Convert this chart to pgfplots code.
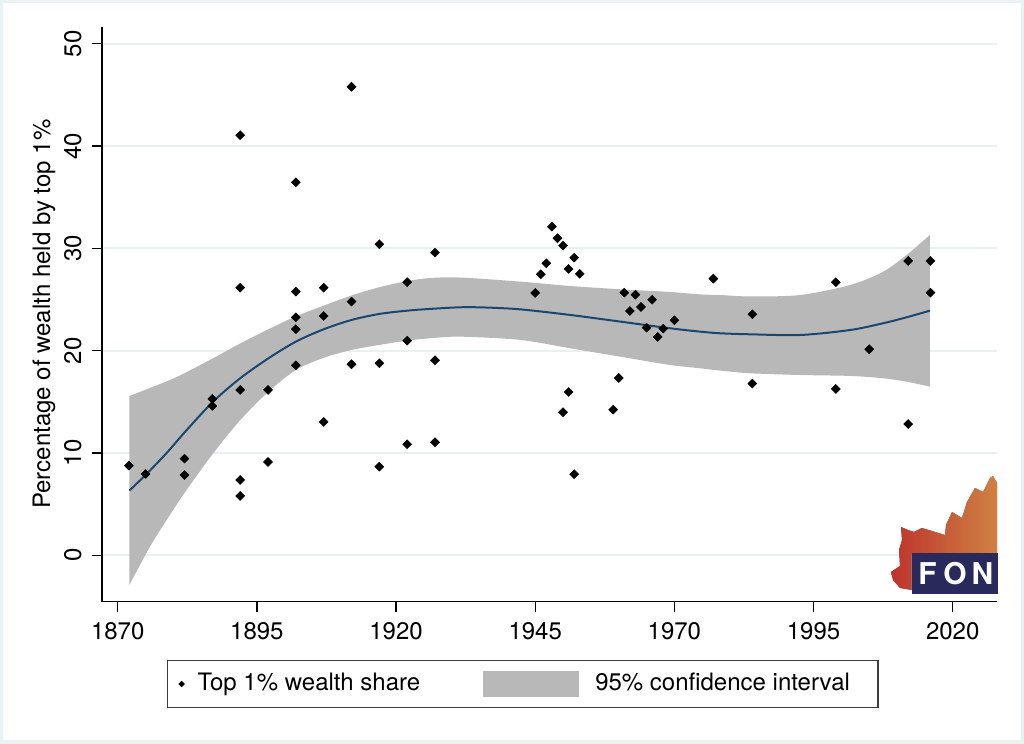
\documentclass[border=0pt]{standalone}
\usepackage{fontspec}
\setmainfont{TeX Gyre Heros}
\usepackage{pgfplots}
\usepackage{pgfplotstable}
\pgfplotsset{compat=1.18}
\usepgfplotslibrary{fillbetween}
\definecolor{gridc}{RGB}{232,240,242}
\definecolor{framec}{RGB}{234,242,244}
\definecolor{bandc}{RGB}{184,184,184}
\definecolor{fitc}{RGB}{26,71,111}
\definecolor{fonnavy}{RGB}{40,42,92}
\definecolor{leafred}{RGB}{226,52,44}
\definecolor{leaforange}{RGB}{246,150,72}
\definecolor{legframe}{RGB}{60,60,60}

\pgfplotstableread{
year share
1872 8.76
1875 7.95
1882 9.44
1882 7.85
1887 15.28
1887 14.6
1892 41.06
1892 26.16
1892 16.16
1892 7.36
1892 5.8
1897 16.16
1897 9.12
1902 36.46
1902 25.77
1902 23.26
1902 22.1
1902 18.57
1907 26.16
1907 23.39
1907 13.03
1912 45.8
1912 24.8
1912 18.67
1917 30.4
1917 18.77
1917 8.66
1922 26.7
1922 20.98
1922 10.85
1927 29.58
1927 19.06
1927 11.05
1945 25.64
1946 27.47
1947 28.54
1948 32.12
1949 30.99
1950 30.27
1950 13.98
1951 27.99
1951 15.96
1952 29.09
1952 7.92
1953 27.5
1959 14.23
1960 17.33
1961 25.67
1962 23.88
1963 25.47
1964 24.27
1965 22.25
1966 24.98
1967 21.34
1968 22.15
1970 22.97
1977 27.04
1984 23.56
1984 16.78
1999 26.69
1999 16.26
2005 20.14
2012 28.77
2012 12.83
2016 28.77
2016 25.67
}\pointsdata

\pgfplotstableread{
year fit
1872.1 6.32
1875.1 7.9
1878.8 10.0
1882.0 12.0
1887.1 15.0
1892.0 17.3
1897.1 19.26
1902.0 20.88
1907.0 22.09
1912.0 23.0
1917.0 23.59
1922.0 23.91
1926.1 24.08
1931.5 24.24
1936.0 24.22
1942.3 24.04
1951.3 23.49
1960.3 22.84
1969.2 22.19
1974.6 21.86
1978.2 21.7
1983.6 21.6
1992.6 21.53
2001.6 22.02
2007.5 22.68
2011.7 23.26
2015.9 23.91
}\fitdata

\pgfplotstableread{
year upper
1872.1 15.57
1878.8 17.0
1882.0 17.8
1887.1 19.25
1892.0 20.7
1897.1 22.1
1902.0 23.35
1907.0 24.4
1912.0 25.4
1917.0 26.2
1922.0 26.8
1926.1 27.1
1931.5 27.15
1942.3 26.75
1951.3 26.32
1960.3 26.0
1969.2 25.74
1974.6 25.5
1978.2 25.44
1983.6 25.3
1992.6 25.44
2001.6 26.42
2007.5 27.72
2011.7 29.35
2015.9 31.31
}\upperdata

\pgfplotstableread{
year lower
1872.1 -2.9
1875.8 0.84
1878.8 3.45
1882.0 6.09
1887.1 9.93
1892.0 13.2
1897.1 16.0
1902.0 18.11
1907.0 19.3
1912.0 20.07
1917.0 20.56
1922.0 20.98
1926.1 21.21
1931.5 21.37
1942.3 21.05
1951.3 20.23
1960.3 19.41
1969.2 18.6
1974.6 18.28
1978.2 18.05
1983.6 17.79
1992.6 17.62
2001.6 17.53
2007.5 17.3
2011.7 16.97
2015.9 16.48
}\lowerdata

\begin{document}
\fontsize{12}{14}\selectfont
\begin{tikzpicture}
\fill[framec, even odd rule] (0,0) rectangle (512pt,372pt) (1.5pt,2pt) rectangle (510.5pt,370.5pt);
\begin{axis}[
  at={(51pt,71.15pt)}, anchor=south west,
  scale only axis, width=447.35pt, height=287.5pt,
  xmin=1867.18, xmax=2027.9, ymin=-4.54, ymax=51.67,
  axis x line*=bottom, axis y line*=left,
  axis line style={-, line width=0.65pt, black},
  xtick={1870,1895,1920,1945,1970,1995,2020},
  ytick={0,10,20,30,40,50},
  tick align=outside, major tick length=5pt,
  tick style={line width=0.65pt, black},
  ymajorgrids, grid style={gridc, line width=1pt},
  /pgf/number format/assume math mode=true,
  /pgf/number format/1000 sep={},
  tick label style={font=\fontsize{12}{14}\selectfont},
  xticklabel style={anchor=north, inner sep=0pt},
  yticklabel style={rotate=90, anchor=south, inner sep=0pt},
  xticklabel shift=5pt, yticklabel shift=5pt,
  ylabel={Percentage of wealth held by top 1\%},
  ylabel style={at={(axis description cs:-0.0648,0.5)}, anchor=center, rotate=0, inner sep=0pt, font=\fontsize{12}{14}\selectfont},
  legend columns=2,
  legend cell align=left,
  legend style={at={(0.07265,-0.1431)}, anchor=west, draw=legframe, line width=0.6pt,
    inner xsep=0pt, inner ysep=0pt, column sep=0pt,
    nodes={inner sep=0pt, draw=none}, font=\fontsize{12}{14}\selectfont,
    /tikz/every even column/.append style={column sep=31.5pt}},
]
\addlegendimage{legend image code/.code={
    \path[draw=none, fill=none] (0pt,-11.6pt) rectangle (15pt,11.6pt);
    \fill[black, draw=none] (7pt,0pt) ++(-1.6pt,0pt) -- ++(1.6pt,1.6pt) -- ++(1.6pt,-1.6pt) -- ++(-1.6pt,-1.6pt) -- cycle;}}
\addlegendentry{Top 1\% wealth share}
\addlegendimage{legend image code/.code={
    \path[draw=none, fill=none] (0pt,-11.6pt) rectangle (56pt,11.6pt);
    \fill[bandc, draw=none] (0pt,-6.5pt) rectangle (48pt,6.5pt);}}
\addlegendentry{95\% confidence interval\hspace*{14pt}}

\addplot[name path=U, draw=none, smooth, forget plot] table[x=year, y=upper] {\upperdata};
\addplot[name path=L, draw=none, smooth, forget plot] table[x=year, y=lower] {\lowerdata};
\addplot[bandc, draw=none, forget plot] fill between[of=U and L];
\addplot[fitc, line width=1pt, smooth, forget plot] table[x=year, y=fit] {\fitdata};
\addplot[only marks, mark=square*, mark size=1.6pt, mark options={rotate=45, fill=black, draw=black, line width=0.2pt}, forget plot] table[x=year, y=share] {\pointsdata};
\end{axis}
% FON logo (decoration)
\fill[left color=leafred, right color=leaforange, opacity=0.8]
  (446.5pt,82pt) -- (445.5pt,86pt) -- (450pt,89pt) -- (449.5pt,97pt) -- (451pt,102pt) -- (450.5pt,108.5pt)
  -- (454pt,107pt) -- (457pt,106pt) -- (461pt,108pt) -- (466pt,106.5pt) -- (472.5pt,104.5pt)
  -- (473pt,109.5pt) -- (476pt,116pt) -- (481pt,113pt) -- (483.5pt,121pt) -- (487.5pt,128pt)
  -- (491.5pt,126pt) -- (495pt,133pt) -- (496.5pt,134pt) -- (498.5pt,130.5pt) -- (498.5pt,95.35pt)
  -- (455.85pt,95.35pt) -- (455.85pt,77pt) -- (450pt,78pt) -- cycle;
\fill[fonnavy] (455.85pt,75pt) rectangle (498.85pt,95.35pt);
\node[white, font=\fontsize{15}{16}\bfseries\selectfont, inner sep=0pt] at (463.75pt,85pt) {F};
\node[white, font=\fontsize{15}{16}\bfseries\selectfont, inner sep=0pt] at (477.5pt,85pt) {O};
\node[white, font=\fontsize{15}{16}\bfseries\selectfont, inner sep=0pt] at (491.25pt,85pt) {N};
\end{tikzpicture}
\end{document}
